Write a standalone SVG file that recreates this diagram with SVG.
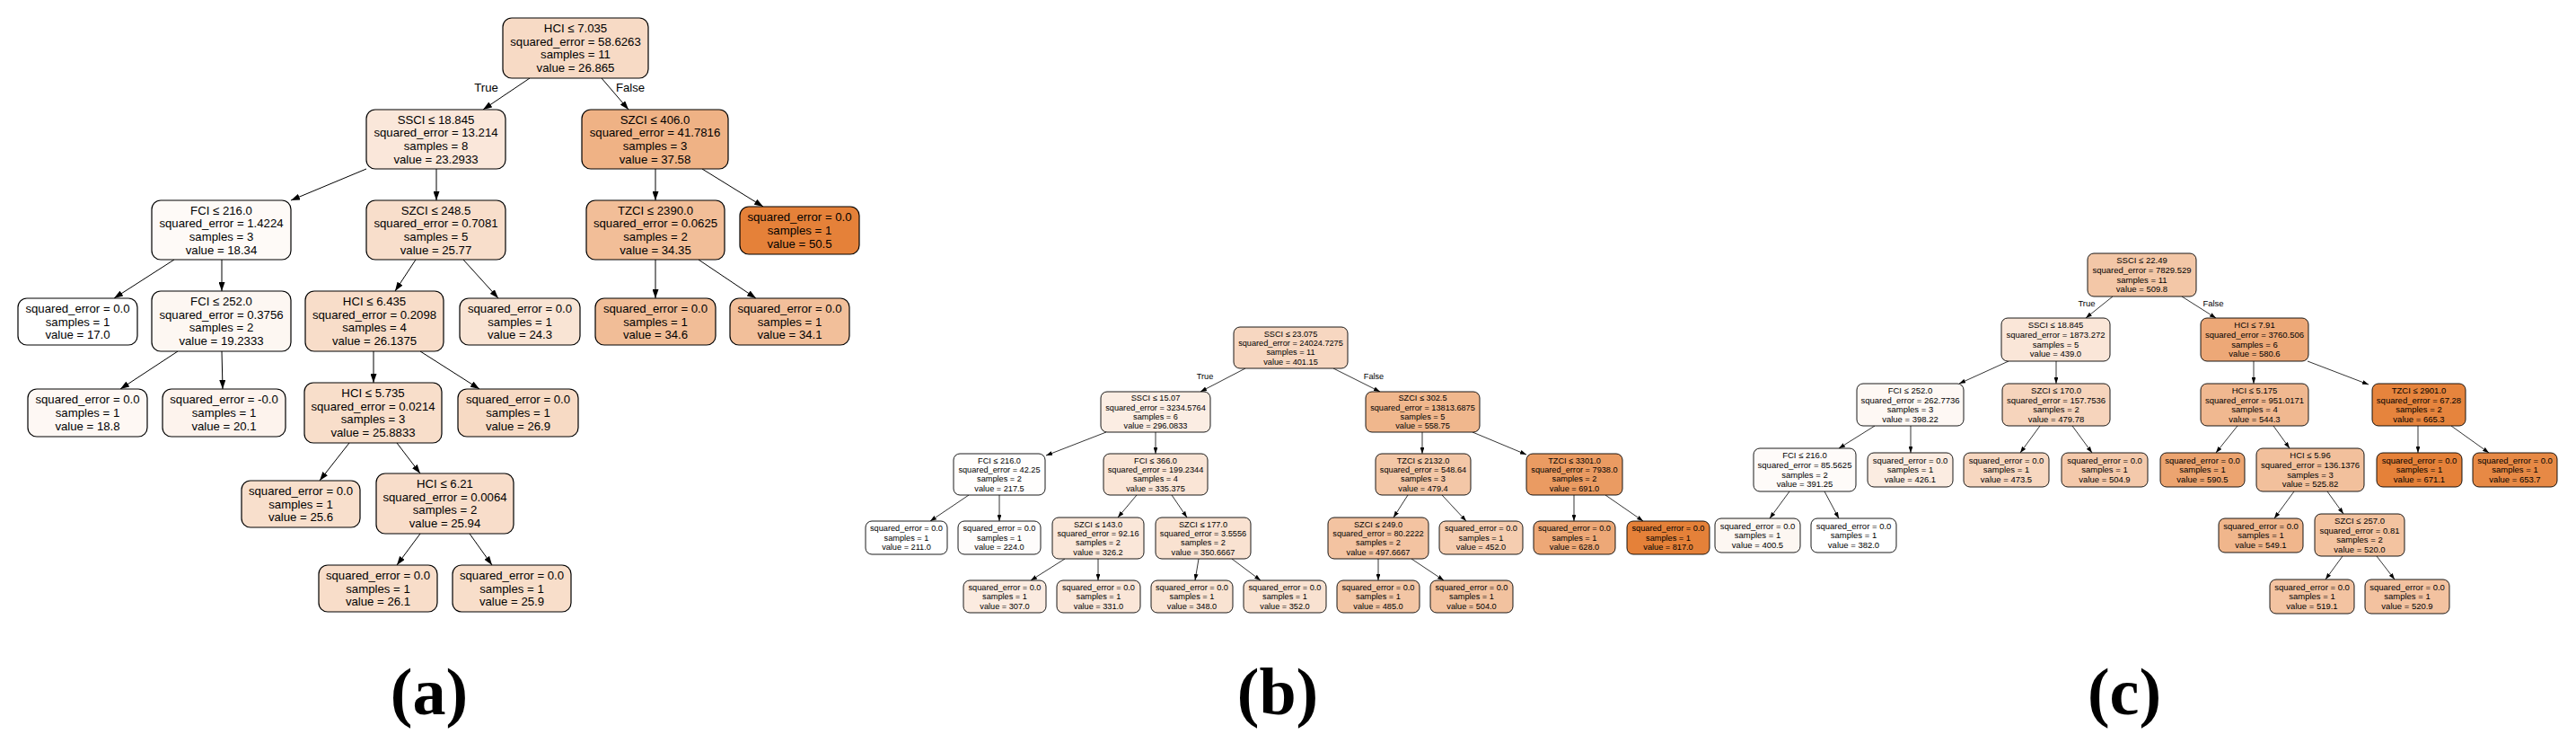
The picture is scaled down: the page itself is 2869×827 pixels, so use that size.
<svg xmlns="http://www.w3.org/2000/svg" width="2869" height="827" viewBox="0 0 2869 827">
<style>
.na{stroke:#000;stroke-width:1.2}
.nb{stroke:#000;stroke-width:0.9}
text{font-family:"Liberation Sans",Arial,sans-serif;text-anchor:middle;fill:#000}
.ta{font-size:13.2px}
.tb{font-size:9.2px}
.tc{font-size:9.5px}
.ea{stroke:#000;stroke-width:1;fill:none;marker-end:url(#ma)}
.eb{stroke:#000;stroke-width:0.8;fill:none;marker-end:url(#mb)}
.lab{font-family:"Liberation Serif","Times New Roman",serif;font-size:74px;font-weight:bold}
</style>
<defs>
<marker id="ma" viewBox="0 0 10 7" refX="10" refY="3.5" markerUnits="userSpaceOnUse" markerWidth="10" markerHeight="7" orient="auto"><path d="M0,0 L10,3.5 L0,7 Z" fill="#000"/></marker>
<marker id="mb" viewBox="0 0 10 7" refX="10" refY="3.5" markerUnits="userSpaceOnUse" markerWidth="7" markerHeight="4.9" orient="auto"><path d="M0,0 L10,3.5 L0,7 Z" fill="#000"/></marker>
</defs>
<rect x="0" y="0" width="2869" height="827" fill="#fff"/>

<!-- Tree (a) -->
<g id="tree-a">
<g id="a-connectors">
<line class="ea" x1="590" y1="87" x2="538" y2="122"/>
<line class="ea" x1="670" y1="87" x2="700" y2="122"/>
<line class="ea" x1="408" y1="188" x2="324" y2="223"/>
<line class="ea" x1="486" y1="188" x2="486" y2="223"/>
<line class="ea" x1="730" y1="188" x2="730" y2="223"/>
<line class="ea" x1="782" y1="188" x2="850" y2="230"/>
<line class="ea" x1="194" y1="289" x2="127" y2="332"/>
<line class="ea" x1="247" y1="289" x2="247" y2="324"/>
<line class="ea" x1="463" y1="289" x2="440" y2="324"/>
<line class="ea" x1="516" y1="289" x2="555" y2="332"/>
<line class="ea" x1="730" y1="289" x2="730" y2="332"/>
<line class="ea" x1="778" y1="289" x2="842" y2="332"/>
<line class="ea" x1="198" y1="391" x2="134" y2="433"/>
<line class="ea" x1="247" y1="391" x2="248" y2="433"/>
<line class="ea" x1="416" y1="391" x2="416" y2="426"/>
<line class="ea" x1="468" y1="391" x2="534" y2="433"/>
<line class="ea" x1="389" y1="493" x2="356" y2="535"/>
<line class="ea" x1="442" y1="493" x2="468" y2="527"/>
<line class="ea" x1="468" y1="594" x2="442" y2="629"/>
<line class="ea" x1="523" y1="594" x2="548" y2="629"/>
<text class="ta" x="541.5" y="101.5">True</text>
<text class="ta" x="702" y="101.5">False</text>
</g>
<g id="a0"><rect class="na" x="560" y="20" width="162" height="67" rx="10" fill="#f7dac5"/><text class="ta"><tspan x="641" y="36.1">HCI ≤ 7.035</tspan><tspan x="641" y="50.8">squared_error = 58.6263</tspan><tspan x="641" y="65.4">samples = 11</tspan><tspan x="641" y="80.1">value = 26.865</tspan></text></g>
<g id="a1"><rect class="na" x="408" y="122" width="155" height="66" rx="10" fill="#fae7da"/><text class="ta"><tspan x="485.5" y="137.6">SSCI ≤ 18.845</tspan><tspan x="485.5" y="152.3">squared_error = 13.214</tspan><tspan x="485.5" y="166.9">samples = 8</tspan><tspan x="485.5" y="181.6">value = 23.2933</tspan></text></g>
<g id="a2"><rect class="na" x="648" y="122" width="163" height="66" rx="10" fill="#efb285"/><text class="ta"><tspan x="729.5" y="137.6">SZCI ≤ 406.0</tspan><tspan x="729.5" y="152.3">squared_error = 41.7816</tspan><tspan x="729.5" y="166.9">samples = 3</tspan><tspan x="729.5" y="181.6">value = 37.58</tspan></text></g>
<g id="a3"><rect class="na" x="169" y="223" width="155" height="66" rx="10" fill="#fefaf7"/><text class="ta"><tspan x="246.5" y="238.6">FCI ≤ 216.0</tspan><tspan x="246.5" y="253.3">squared_error = 1.4224</tspan><tspan x="246.5" y="267.9">samples = 3</tspan><tspan x="246.5" y="282.6">value = 18.34</tspan></text></g>
<g id="a4"><rect class="na" x="408" y="223" width="155" height="66" rx="10" fill="#f8decb"/><text class="ta"><tspan x="485.5" y="238.6">SZCI ≤ 248.5</tspan><tspan x="485.5" y="253.3">squared_error = 0.7081</tspan><tspan x="485.5" y="267.9">samples = 5</tspan><tspan x="485.5" y="282.6">value = 25.77</tspan></text></g>
<g id="a5"><rect class="na" x="653" y="223" width="154" height="66" rx="10" fill="#f2be98"/><text class="ta"><tspan x="730" y="238.6">TZCI ≤ 2390.0</tspan><tspan x="730" y="253.3">squared_error = 0.0625</tspan><tspan x="730" y="267.9">samples = 2</tspan><tspan x="730" y="282.6">value = 34.35</tspan></text></g>
<g id="a6"><rect class="na" x="824" y="230" width="133" height="53" rx="10" fill="#e58139"/><text class="ta"><tspan x="890.5" y="246.4">squared_error = 0.0</tspan><tspan x="890.5" y="261.1">samples = 1</tspan><tspan x="890.5" y="275.8">value = 50.5</tspan></text></g>
<g id="a7"><rect class="na" x="20" y="332" width="133" height="52" rx="10" fill="#ffffff"/><text class="ta"><tspan x="86.5" y="347.9">squared_error = 0.0</tspan><tspan x="86.5" y="362.6">samples = 1</tspan><tspan x="86.5" y="377.3">value = 17.0</tspan></text></g>
<g id="a8"><rect class="na" x="169" y="324" width="155" height="67" rx="10" fill="#fdf7f2"/><text class="ta"><tspan x="246.5" y="340.1">FCI ≤ 252.0</tspan><tspan x="246.5" y="354.8">squared_error = 0.3756</tspan><tspan x="246.5" y="369.4">samples = 2</tspan><tspan x="246.5" y="384.1">value = 19.2333</tspan></text></g>
<g id="a9"><rect class="na" x="340" y="324" width="154" height="67" rx="10" fill="#f8ddc9"/><text class="ta"><tspan x="417" y="340.1">HCI ≤ 6.435</tspan><tspan x="417" y="354.8">squared_error = 0.2098</tspan><tspan x="417" y="369.4">samples = 4</tspan><tspan x="417" y="384.1">value = 26.1375</tspan></text></g>
<g id="a10"><rect class="na" x="512" y="332" width="134" height="52" rx="10" fill="#f9e4d4"/><text class="ta"><tspan x="579" y="347.9">squared_error = 0.0</tspan><tspan x="579" y="362.6">samples = 1</tspan><tspan x="579" y="377.3">value = 24.3</tspan></text></g>
<g id="a11"><rect class="na" x="663" y="332" width="134" height="52" rx="10" fill="#f1bd97"/><text class="ta"><tspan x="730" y="347.9">squared_error = 0.0</tspan><tspan x="730" y="362.6">samples = 1</tspan><tspan x="730" y="377.3">value = 34.6</tspan></text></g>
<g id="a12"><rect class="na" x="813" y="332" width="133" height="52" rx="10" fill="#f2bf9a"/><text class="ta"><tspan x="879.5" y="347.9">squared_error = 0.0</tspan><tspan x="879.5" y="362.6">samples = 1</tspan><tspan x="879.5" y="377.3">value = 34.1</tspan></text></g>
<g id="a13"><rect class="na" x="31" y="433" width="133" height="53" rx="10" fill="#fef8f4"/><text class="ta"><tspan x="97.5" y="449.4">squared_error = 0.0</tspan><tspan x="97.5" y="464.1">samples = 1</tspan><tspan x="97.5" y="478.8">value = 18.8</tspan></text></g>
<g id="a14"><rect class="na" x="181" y="433" width="137" height="53" rx="10" fill="#fdf3ed"/><text class="ta"><tspan x="249.5" y="449.4">squared_error = -0.0</tspan><tspan x="249.5" y="464.1">samples = 1</tspan><tspan x="249.5" y="478.8">value = 20.1</tspan></text></g>
<g id="a15"><rect class="na" x="339" y="426" width="153" height="67" rx="10" fill="#f8deca"/><text class="ta"><tspan x="415.5" y="442.1">HCI ≤ 5.735</tspan><tspan x="415.5" y="456.8">squared_error = 0.0214</tspan><tspan x="415.5" y="471.4">samples = 3</tspan><tspan x="415.5" y="486.1">value = 25.8833</tspan></text></g>
<g id="a16"><rect class="na" x="510" y="433" width="134" height="53" rx="10" fill="#f7dac4"/><text class="ta"><tspan x="577" y="449.4">squared_error = 0.0</tspan><tspan x="577" y="464.1">samples = 1</tspan><tspan x="577" y="478.8">value = 26.9</tspan></text></g>
<g id="a17"><rect class="na" x="269" y="535" width="132" height="52" rx="10" fill="#f8dfcc"/><text class="ta"><tspan x="335" y="550.9">squared_error = 0.0</tspan><tspan x="335" y="565.6">samples = 1</tspan><tspan x="335" y="580.3">value = 25.6</tspan></text></g>
<g id="a18"><rect class="na" x="419" y="527" width="153" height="67" rx="10" fill="#f8ddca"/><text class="ta"><tspan x="495.5" y="543.1">HCI ≤ 6.21</tspan><tspan x="495.5" y="557.8">squared_error = 0.0064</tspan><tspan x="495.5" y="572.4">samples = 2</tspan><tspan x="495.5" y="587.1">value = 25.94</tspan></text></g>
<g id="a19"><rect class="na" x="355" y="629" width="132" height="52" rx="10" fill="#f8ddc9"/><text class="ta"><tspan x="421" y="644.9">squared_error = 0.0</tspan><tspan x="421" y="659.6">samples = 1</tspan><tspan x="421" y="674.3">value = 26.1</tspan></text></g>
<g id="a20"><rect class="na" x="504" y="629" width="132" height="52" rx="10" fill="#f8deca"/><text class="ta"><tspan x="570" y="644.9">squared_error = 0.0</tspan><tspan x="570" y="659.6">samples = 1</tspan><tspan x="570" y="674.3">value = 25.9</tspan></text></g>
<text class="lab" x="478" y="795">(a)</text>
</g>

<!-- Tree (b) -->
<g id="tree-b">
<g id="b-connectors">
<line class="eb" x1="1387" y1="410" x2="1337" y2="436"/>
<line class="eb" x1="1485" y1="410" x2="1537" y2="436"/>
<line class="eb" x1="1232" y1="481" x2="1165" y2="507"/>
<line class="eb" x1="1287" y1="481" x2="1287" y2="505"/>
<line class="eb" x1="1584" y1="481" x2="1584" y2="505"/>
<line class="eb" x1="1640" y1="481" x2="1700" y2="506"/>
<line class="eb" x1="1079" y1="551" x2="1036" y2="580"/>
<line class="eb" x1="1113" y1="551" x2="1113" y2="580"/>
<line class="eb" x1="1266" y1="551" x2="1245" y2="576"/>
<line class="eb" x1="1305" y1="551" x2="1322" y2="576"/>
<line class="eb" x1="1568" y1="551" x2="1552" y2="576"/>
<line class="eb" x1="1606" y1="551" x2="1633" y2="580"/>
<line class="eb" x1="1753" y1="551" x2="1753" y2="580"/>
<line class="eb" x1="1788" y1="551" x2="1830" y2="580"/>
<line class="eb" x1="1186" y1="622" x2="1148" y2="646"/>
<line class="eb" x1="1223" y1="622" x2="1223" y2="646"/>
<line class="eb" x1="1335" y1="622" x2="1331" y2="646"/>
<line class="eb" x1="1372" y1="622" x2="1404" y2="646"/>
<line class="eb" x1="1535" y1="622" x2="1535" y2="646"/>
<line class="eb" x1="1572" y1="622" x2="1608" y2="646"/>
<text class="tb" x="1342" y="421.5">True</text>
<text class="tb" x="1530" y="421.5">False</text>
</g>
<g id="b0"><rect class="nb" x="1374" y="364" width="127" height="46" rx="7" fill="#f7d7c1"/><text class="tb"><tspan x="1437.5" y="374.7">SSCI ≤ 23.075</tspan><tspan x="1437.5" y="385">squared_error = 24024.7275</tspan><tspan x="1437.5" y="395.4">samples = 11</tspan><tspan x="1437.5" y="405.7">value = 401.15</tspan></text></g>
<g id="b1"><rect class="nb" x="1226" y="436" width="122" height="45" rx="7" fill="#fbede3"/><text class="tb"><tspan x="1287" y="446.2">SSCI ≤ 15.07</tspan><tspan x="1287" y="456.5">squared_error = 3234.5764</tspan><tspan x="1287" y="466.9">samples = 6</tspan><tspan x="1287" y="477.2">value = 296.0833</tspan></text></g>
<g id="b2"><rect class="nb" x="1521" y="436" width="127" height="45" rx="7" fill="#f0b78d"/><text class="tb"><tspan x="1584.5" y="446.2">SZCI ≤ 302.5</tspan><tspan x="1584.5" y="456.5">squared_error = 13813.6875</tspan><tspan x="1584.5" y="466.9">samples = 5</tspan><tspan x="1584.5" y="477.2">value = 558.75</tspan></text></g>
<g id="b3"><rect class="nb" x="1062" y="505" width="102" height="46" rx="7" fill="#fffefd"/><text class="tb"><tspan x="1113" y="515.7">FCI ≤ 216.0</tspan><tspan x="1113" y="526">squared_error = 42.25</tspan><tspan x="1113" y="536.4">samples = 2</tspan><tspan x="1113" y="546.7">value = 217.5</tspan></text></g>
<g id="b4"><rect class="nb" x="1229" y="505" width="116" height="46" rx="7" fill="#fae5d6"/><text class="tb"><tspan x="1287" y="515.7">FCI ≤ 366.0</tspan><tspan x="1287" y="526">squared_error = 199.2344</tspan><tspan x="1287" y="536.4">samples = 4</tspan><tspan x="1287" y="546.7">value = 335.375</tspan></text></g>
<g id="b5"><rect class="nb" x="1532" y="505" width="106" height="46" rx="7" fill="#f3c7a7"/><text class="tb"><tspan x="1585" y="515.7">TZCI ≤ 2132.0</tspan><tspan x="1585" y="526">squared_error = 548.64</tspan><tspan x="1585" y="536.4">samples = 3</tspan><tspan x="1585" y="546.7">value = 479.4</tspan></text></g>
<g id="b6"><rect class="nb" x="1700" y="505" width="107" height="46" rx="7" fill="#ea9b62"/><text class="tb"><tspan x="1753.5" y="515.7">TZCI ≤ 3301.0</tspan><tspan x="1753.5" y="526">squared_error = 7938.0</tspan><tspan x="1753.5" y="536.4">samples = 2</tspan><tspan x="1753.5" y="546.7">value = 691.0</tspan></text></g>
<g id="b7"><rect class="nb" x="964" y="580" width="91" height="37" rx="7" fill="#ffffff"/><text class="tb"><tspan x="1009.5" y="591.4">squared_error = 0.0</tspan><tspan x="1009.5" y="601.7">samples = 1</tspan><tspan x="1009.5" y="612">value = 211.0</tspan></text></g>
<g id="b8"><rect class="nb" x="1067" y="580" width="92" height="37" rx="7" fill="#fefcfb"/><text class="tb"><tspan x="1113" y="591.4">squared_error = 0.0</tspan><tspan x="1113" y="601.7">samples = 1</tspan><tspan x="1113" y="612">value = 224.0</tspan></text></g>
<g id="b9"><rect class="nb" x="1172" y="576" width="102" height="46" rx="7" fill="#fae7d9"/><text class="tb"><tspan x="1223" y="586.7">SZCI ≤ 143.0</tspan><tspan x="1223" y="597">squared_error = 92.16</tspan><tspan x="1223" y="607.4">samples = 2</tspan><tspan x="1223" y="617.7">value = 326.2</tspan></text></g>
<g id="b10"><rect class="nb" x="1287" y="576" width="106" height="46" rx="7" fill="#f9e2d1"/><text class="tb"><tspan x="1340" y="586.7">SZCI ≤ 177.0</tspan><tspan x="1340" y="597">squared_error = 3.5556</tspan><tspan x="1340" y="607.4">samples = 2</tspan><tspan x="1340" y="617.7">value = 350.6667</tspan></text></g>
<g id="b11"><rect class="nb" x="1479" y="576" width="112" height="46" rx="7" fill="#f3c3a1"/><text class="tb"><tspan x="1535" y="586.7">SZCI ≤ 249.0</tspan><tspan x="1535" y="597">squared_error = 80.2222</tspan><tspan x="1535" y="607.4">samples = 2</tspan><tspan x="1535" y="617.7">value = 497.6667</tspan></text></g>
<g id="b12"><rect class="nb" x="1603" y="580" width="93" height="37" rx="7" fill="#f5cdb0"/><text class="tb"><tspan x="1649.5" y="591.4">squared_error = 0.0</tspan><tspan x="1649.5" y="601.7">samples = 1</tspan><tspan x="1649.5" y="612">value = 452.0</tspan></text></g>
<g id="b13"><rect class="nb" x="1708" y="580" width="91" height="37" rx="7" fill="#eda877"/><text class="tb"><tspan x="1753.5" y="591.4">squared_error = 0.0</tspan><tspan x="1753.5" y="601.7">samples = 1</tspan><tspan x="1753.5" y="612">value = 628.0</tspan></text></g>
<g id="b14"><rect class="nb" x="1812" y="580" width="92" height="37" rx="7" fill="#e58139"/><text class="tb"><tspan x="1858" y="591.4">squared_error = 0.0</tspan><tspan x="1858" y="601.7">samples = 1</tspan><tspan x="1858" y="612">value = 817.0</tspan></text></g>
<g id="b15"><rect class="nb" x="1073" y="646" width="92" height="36" rx="7" fill="#fbebe0"/><text class="tb"><tspan x="1119" y="656.9">squared_error = 0.0</tspan><tspan x="1119" y="667.2">samples = 1</tspan><tspan x="1119" y="677.5">value = 307.0</tspan></text></g>
<g id="b16"><rect class="nb" x="1177" y="646" width="93" height="36" rx="7" fill="#fae6d8"/><text class="tb"><tspan x="1223.5" y="656.9">squared_error = 0.0</tspan><tspan x="1223.5" y="667.2">samples = 1</tspan><tspan x="1223.5" y="677.5">value = 331.0</tspan></text></g>
<g id="b17"><rect class="nb" x="1282" y="646" width="91" height="36" rx="7" fill="#f9e3d2"/><text class="tb"><tspan x="1327.5" y="656.9">squared_error = 0.0</tspan><tspan x="1327.5" y="667.2">samples = 1</tspan><tspan x="1327.5" y="677.5">value = 348.0</tspan></text></g>
<g id="b18"><rect class="nb" x="1385" y="646" width="92" height="36" rx="7" fill="#f9e2d1"/><text class="tb"><tspan x="1431" y="656.9">squared_error = 0.0</tspan><tspan x="1431" y="667.2">samples = 1</tspan><tspan x="1431" y="677.5">value = 352.0</tspan></text></g>
<g id="b19"><rect class="nb" x="1489" y="646" width="92" height="36" rx="7" fill="#f3c6a5"/><text class="tb"><tspan x="1535" y="656.9">squared_error = 0.0</tspan><tspan x="1535" y="667.2">samples = 1</tspan><tspan x="1535" y="677.5">value = 485.0</tspan></text></g>
<g id="b20"><rect class="nb" x="1593" y="646" width="92" height="36" rx="7" fill="#f2c29f"/><text class="tb"><tspan x="1639" y="656.9">squared_error = 0.0</tspan><tspan x="1639" y="667.2">samples = 1</tspan><tspan x="1639" y="677.5">value = 504.0</tspan></text></g>
<text class="lab" x="1423" y="795">(b)</text>
</g>

<!-- Tree (c) -->
<g id="tree-c">
<g id="c-connectors">
<line class="eb" x1="2353" y1="330" x2="2323" y2="354"/>
<line class="eb" x1="2430" y1="330" x2="2468" y2="354"/>
<line class="eb" x1="2237" y1="402" x2="2182" y2="427"/>
<line class="eb" x1="2290" y1="402" x2="2290" y2="427"/>
<line class="eb" x1="2510" y1="402" x2="2510" y2="427"/>
<line class="eb" x1="2570" y1="402" x2="2638" y2="428"/>
<line class="eb" x1="2088" y1="474" x2="2048" y2="499"/>
<line class="eb" x1="2128" y1="474" x2="2128" y2="504"/>
<line class="eb" x1="2272" y1="474" x2="2250" y2="504"/>
<line class="eb" x1="2308" y1="474" x2="2330" y2="504"/>
<line class="eb" x1="2492" y1="474" x2="2468" y2="504"/>
<line class="eb" x1="2532" y1="474" x2="2550" y2="499"/>
<line class="eb" x1="2693" y1="474" x2="2693" y2="504"/>
<line class="eb" x1="2730" y1="474" x2="2772" y2="504"/>
<line class="eb" x1="1993" y1="547" x2="1971" y2="577"/>
<line class="eb" x1="2032" y1="547" x2="2048" y2="577"/>
<line class="eb" x1="2555" y1="547" x2="2533" y2="577"/>
<line class="eb" x1="2592" y1="547" x2="2610" y2="572"/>
<line class="eb" x1="2609" y1="619" x2="2590" y2="645"/>
<line class="eb" x1="2647" y1="619" x2="2667" y2="645"/>
<text class="tc" x="2324" y="340.5">True</text>
<text class="tc" x="2465" y="340.5">False</text>
</g>
<g id="c0"><rect class="nb" x="2325" y="282" width="121" height="48" rx="7" fill="#f3c7a7"/><text class="tc"><tspan x="2385.5" y="293.3">SSCI ≤ 22.49</tspan><tspan x="2385.5" y="304">squared_error = 7829.529</tspan><tspan x="2385.5" y="314.6">samples = 11</tspan><tspan x="2385.5" y="325.3">value = 509.8</tspan></text></g>
<g id="c1"><rect class="nb" x="2229" y="354" width="121" height="48" rx="7" fill="#fae6d8"/><text class="tc"><tspan x="2289.5" y="365.3">SSCI ≤ 18.845</tspan><tspan x="2289.5" y="376">squared_error = 1873.272</tspan><tspan x="2289.5" y="386.6">samples = 5</tspan><tspan x="2289.5" y="397.3">value = 439.0</tspan></text></g>
<g id="c2"><rect class="nb" x="2451" y="354" width="120" height="48" rx="7" fill="#eda877"/><text class="tc"><tspan x="2511" y="365.3">HCI ≤ 7.91</tspan><tspan x="2511" y="376">squared_error = 3760.506</tspan><tspan x="2511" y="386.6">samples = 6</tspan><tspan x="2511" y="397.3">value = 580.6</tspan></text></g>
<g id="c3"><rect class="nb" x="2068" y="427" width="119" height="47" rx="7" fill="#fef8f4"/><text class="tc"><tspan x="2127.5" y="437.8">FCI ≤ 252.0</tspan><tspan x="2127.5" y="448.5">squared_error = 262.7736</tspan><tspan x="2127.5" y="459.1">samples = 3</tspan><tspan x="2127.5" y="469.8">value = 398.22</tspan></text></g>
<g id="c4"><rect class="nb" x="2230" y="427" width="120" height="47" rx="7" fill="#f6d4bc"/><text class="tc"><tspan x="2290" y="437.8">SZCI ≤ 170.0</tspan><tspan x="2290" y="448.5">squared_error = 157.7536</tspan><tspan x="2290" y="459.1">samples = 2</tspan><tspan x="2290" y="469.8">value = 479.78</tspan></text></g>
<g id="c5"><rect class="nb" x="2451" y="427" width="120" height="47" rx="7" fill="#f0b890"/><text class="tc"><tspan x="2511" y="437.8">HCI ≤ 5.175</tspan><tspan x="2511" y="448.5">squared_error = 951.0171</tspan><tspan x="2511" y="459.1">samples = 4</tspan><tspan x="2511" y="469.8">value = 544.3</tspan></text></g>
<g id="c6"><rect class="nb" x="2642" y="427" width="104" height="47" rx="7" fill="#e6843d"/><text class="tc"><tspan x="2694" y="437.8">TZCI ≤ 2901.0</tspan><tspan x="2694" y="448.5">squared_error = 67.28</tspan><tspan x="2694" y="459.1">samples = 2</tspan><tspan x="2694" y="469.8">value = 665.3</tspan></text></g>
<g id="c7"><rect class="nb" x="1953" y="499" width="114" height="48" rx="7" fill="#fefbf9"/><text class="tc"><tspan x="2010" y="510.3">FCI ≤ 216.0</tspan><tspan x="2010" y="521">squared_error = 85.5625</tspan><tspan x="2010" y="531.6">samples = 2</tspan><tspan x="2010" y="542.3">value = 391.25</tspan></text></g>
<g id="c8"><rect class="nb" x="2080" y="504" width="95" height="38" rx="7" fill="#fbece1"/><text class="tc"><tspan x="2127.5" y="515.6">squared_error = 0.0</tspan><tspan x="2127.5" y="526.3">samples = 1</tspan><tspan x="2127.5" y="537">value = 426.1</tspan></text></g>
<g id="c9"><rect class="nb" x="2187" y="504" width="95" height="38" rx="7" fill="#f7d7c0"/><text class="tc"><tspan x="2234.5" y="515.6">squared_error = 0.0</tspan><tspan x="2234.5" y="526.3">samples = 1</tspan><tspan x="2234.5" y="537">value = 473.5</tspan></text></g>
<g id="c10"><rect class="nb" x="2296" y="504" width="96" height="38" rx="7" fill="#f4c9ab"/><text class="tc"><tspan x="2344" y="515.6">squared_error = 0.0</tspan><tspan x="2344" y="526.3">samples = 1</tspan><tspan x="2344" y="537">value = 504.9</tspan></text></g>
<g id="c11"><rect class="nb" x="2406" y="504" width="94" height="38" rx="7" fill="#eca470"/><text class="tc"><tspan x="2453" y="515.6">squared_error = 0.0</tspan><tspan x="2453" y="526.3">samples = 1</tspan><tspan x="2453" y="537">value = 590.5</tspan></text></g>
<g id="c12"><rect class="nb" x="2513" y="499" width="120" height="48" rx="7" fill="#f2c09c"/><text class="tc"><tspan x="2573" y="510.3">HCI ≤ 5.96</tspan><tspan x="2573" y="521">squared_error = 136.1376</tspan><tspan x="2573" y="531.6">samples = 3</tspan><tspan x="2573" y="542.3">value = 525.82</tspan></text></g>
<g id="c13"><rect class="nb" x="2647" y="504" width="95" height="38" rx="7" fill="#e58139"/><text class="tc"><tspan x="2694.5" y="515.6">squared_error = 0.0</tspan><tspan x="2694.5" y="526.3">samples = 1</tspan><tspan x="2694.5" y="537">value = 671.1</tspan></text></g>
<g id="c14"><rect class="nb" x="2754" y="504" width="94" height="38" rx="7" fill="#e78945"/><text class="tc"><tspan x="2801" y="515.6">squared_error = 0.0</tspan><tspan x="2801" y="526.3">samples = 1</tspan><tspan x="2801" y="537">value = 653.7</tspan></text></g>
<g id="c15"><rect class="nb" x="1910" y="577" width="95" height="38" rx="7" fill="#fdf7f2"/><text class="tc"><tspan x="1957.5" y="588.6">squared_error = 0.0</tspan><tspan x="1957.5" y="599.3">samples = 1</tspan><tspan x="1957.5" y="610">value = 400.5</tspan></text></g>
<g id="c16"><rect class="nb" x="2017" y="577" width="95" height="38" rx="7" fill="#ffffff"/><text class="tc"><tspan x="2064.5" y="588.6">squared_error = 0.0</tspan><tspan x="2064.5" y="599.3">samples = 1</tspan><tspan x="2064.5" y="610">value = 382.0</tspan></text></g>
<g id="c17"><rect class="nb" x="2471" y="577" width="94" height="38" rx="7" fill="#f0b68c"/><text class="tc"><tspan x="2518" y="588.6">squared_error = 0.0</tspan><tspan x="2518" y="599.3">samples = 1</tspan><tspan x="2518" y="610">value = 549.1</tspan></text></g>
<g id="c18"><rect class="nb" x="2578" y="572" width="100" height="47" rx="7" fill="#f3c3a0"/><text class="tc"><tspan x="2628" y="582.8">SZCI ≤ 257.0</tspan><tspan x="2628" y="593.5">squared_error = 0.81</tspan><tspan x="2628" y="604.1">samples = 2</tspan><tspan x="2628" y="614.8">value = 520.0</tspan></text></g>
<g id="c19"><rect class="nb" x="2528" y="645" width="94" height="38" rx="7" fill="#f3c3a1"/><text class="tc"><tspan x="2575" y="656.6">squared_error = 0.0</tspan><tspan x="2575" y="667.3">samples = 1</tspan><tspan x="2575" y="678">value = 519.1</tspan></text></g>
<g id="c20"><rect class="nb" x="2634" y="645" width="94" height="38" rx="7" fill="#f3c2a0"/><text class="tc"><tspan x="2681" y="656.6">squared_error = 0.0</tspan><tspan x="2681" y="667.3">samples = 1</tspan><tspan x="2681" y="678">value = 520.9</tspan></text></g>
<text class="lab" x="2366" y="795">(c)</text>
</g>
</svg>
